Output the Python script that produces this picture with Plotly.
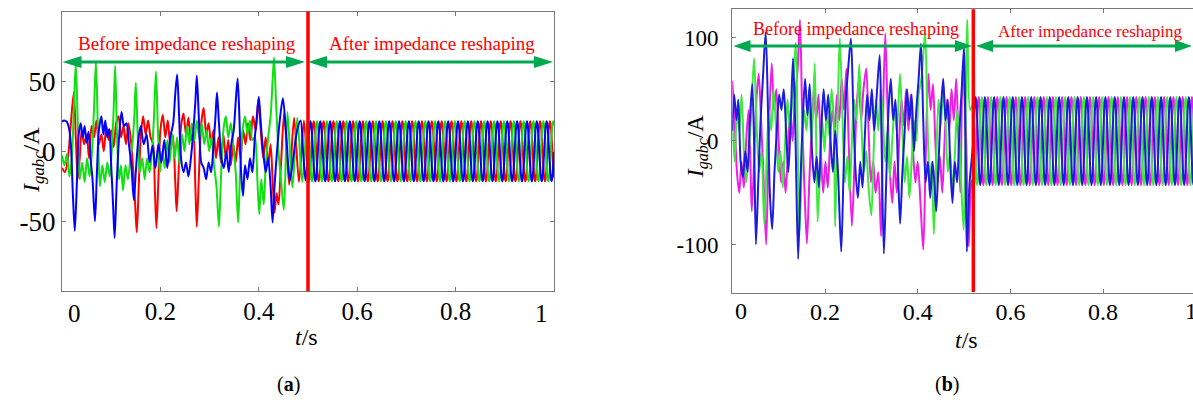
import numpy as np
import plotly.graph_objects as go

W, H = 1193, 402

# ---------------- data ----------------
# switching instants (s)
SWITCH_A = 0.50
SWITCH_B = 0.52
PERIOD = 0.02  # 50 Hz grid

# one steady-state period (12 samples) after reshaping
A_CYCLE = [0, 10.8, 18.6, 21.5, 18.6, 10.8, 0, -10.8, -18.6, -21.5, -18.6, -10.8]
B_CYCLE = [0, 21.3, 36.8, 42.5, 36.8, 21.3, 0, -21.3, -36.8, -42.5, -36.8, -21.3]

# panel (a), before reshaping: extrema (t [s], I [A])
A_BLUE = [(0, 21), (0.004, 22), (0.010, 21), (0.014, 17), (0.018, 5), (0.022, -30), (0.026, -57),
          (0.030, -25), (0.034, 12), (0.038, 20), (0.042, 10), (0.046, 18), (0.050, 6), (0.054, 14),
          (0.058, -5), (0.062, -20), (0.067, -50), (0.071, -15), (0.075, 15), (0.080, 25), (0.084, 12),
          (0.088, 22), (0.092, 10), (0.096, 16), (0.100, -10), (0.104, -40), (0.107, -62), (0.111, -25),
          (0.116, 10), (0.121, 28), (0.126, 18), (0.131, 20), (0.136, 5), (0.141, -10), (0.146, -35),
          (0.150, -15), (0.155, 8), (0.160, 18), (0.166, 5), (0.172, 12), (0.178, -8), (0.184, 4),
          (0.190, -12), (0.196, 5), (0.202, -8), (0.208, 8), (0.214, -12), (0.220, 10), (0.226, 20),
          (0.230, 40), (0.234, 55), (0.238, 25), (0.242, -5), (0.247, -15), (0.252, -8), (0.257, -18),
          (0.262, -5), (0.267, 15), (0.271, 35), (0.274, 54), (0.278, 25), (0.283, -8), (0.288, -12),
          (0.293, -20), (0.298, -8), (0.303, -15), (0.308, 5), (0.312, 25), (0.315, 42), (0.319, 20),
          (0.324, -5), (0.329, -12), (0.334, 0), (0.339, -15), (0.344, 5), (0.349, 15), (0.353, 35),
          (0.357, 52), (0.361, 20), (0.364, -15), (0.368, -32), (0.372, -10), (0.377, -20), (0.382, -5),
          (0.387, -15), (0.392, 10), (0.396, 25), (0.400, 39), (0.404, 20), (0.409, 0), (0.414, -15),
          (0.419, -5), (0.424, -25), (0.428, -51), (0.432, -25), (0.437, 0), (0.442, 20), (0.449, 38),
          (0.456, 10), (0.463, -21), (0.470, -5), (0.478, 15), (0.485, 22), (0.490, 0), (0.495, -21)]

A_RED = [(0, -12), (0.006, -15), (0.012, -5), (0.018, 20), (0.024, 42), (0.028, 10), (0.032, -20),
         (0.036, -5), (0.040, 15), (0.045, 5), (0.050, 12), (0.055, -5), (0.060, 18), (0.065, 10),
         (0.070, 22), (0.075, 5), (0.080, 12), (0.085, 0), (0.090, 18), (0.095, 8), (0.100, 15),
         (0.105, 3), (0.110, 20), (0.115, 25), (0.120, 10), (0.125, 18), (0.130, 5), (0.135, 20),
         (0.140, 8), (0.145, -15), (0.149, -40), (0.152, -58), (0.156, -25), (0.160, 10), (0.165, 25),
         (0.170, 12), (0.175, 22), (0.180, 10), (0.185, 5), (0.189, -30), (0.192, -55), (0.196, -20),
         (0.200, 15), (0.205, 26), (0.210, 10), (0.215, 22), (0.220, 5), (0.225, 12), (0.230, -20),
         (0.233, -43), (0.237, -15), (0.242, 18), (0.247, 27), (0.252, 12), (0.257, 24), (0.262, 8),
         (0.267, 15), (0.271, -25), (0.274, -54), (0.278, -20), (0.283, 20), (0.288, 31), (0.293, 12),
         (0.298, 20), (0.303, 5), (0.308, 15), (0.313, -5), (0.318, 10), (0.323, -8), (0.328, 12),
         (0.333, -5), (0.338, 8), (0.343, -10), (0.348, 5), (0.353, -8), (0.358, 10), (0.363, -5),
         (0.368, 15), (0.373, 5), (0.378, 20), (0.383, 8), (0.388, 25), (0.394, 15), (0.399, 37),
         (0.404, 15), (0.409, -5), (0.414, 10), (0.419, -10), (0.424, 5), (0.428, -20), (0.432, -44),
         (0.436, -30), (0.440, -38), (0.445, -10), (0.4517, 28), (0.4617, -24), (0.4717, 24),
         (0.4817, -22), (0.4917, 22)]

A_GREEN = [(0, -3), (0.005, -10), (0.010, -2), (0.015, -18), (0.020, -5), (0.024, 30), (0.028, 63),
           (0.032, 20), (0.036, -20), (0.041, -8), (0.046, -22), (0.051, -5), (0.056, -18), (0.061, 0),
           (0.065, 30), (0.069, 64), (0.073, 15), (0.077, -25), (0.082, -10), (0.087, -22), (0.092, -8),
           (0.097, -18), (0.101, 0), (0.105, 30), (0.108, 61), (0.112, 10), (0.116, -20), (0.120, -10),
           (0.124, -28), (0.129, -10), (0.134, -20), (0.139, -5), (0.143, 5), (0.147, 25), (0.150, 49),
           (0.154, 10), (0.158, -15), (0.163, -5), (0.168, -20), (0.173, -5), (0.178, -15), (0.183, 0),
           (0.187, 25), (0.191, 57), (0.195, 15), (0.199, -15), (0.204, 0), (0.209, -12), (0.214, 8),
           (0.219, -8), (0.224, 12), (0.229, -5), (0.234, 10), (0.239, -10), (0.244, 12), (0.249, 0),
           (0.254, 18), (0.259, 5), (0.264, 20), (0.269, 8), (0.274, 22), (0.279, 10), (0.284, 20),
           (0.289, 5), (0.294, 15), (0.299, 0), (0.304, 10), (0.309, -10), (0.314, -25), (0.319, -54),
           (0.323, -20), (0.328, 15), (0.333, 25), (0.338, 10), (0.343, 20), (0.348, 5), (0.353, -15),
           (0.358, -51), (0.362, -15), (0.367, 15), (0.372, 25), (0.377, 12), (0.382, 22), (0.387, 8),
           (0.392, 10), (0.397, -20), (0.401, -45), (0.405, -20), (0.410, -38), (0.414, -10), (0.419, 10),
           (0.424, 25), (0.428, 50), (0.431, 67), (0.435, 35), (0.440, 0), (0.445, -20), (0.451, -42),
           (0.4583, 28), (0.4683, -26), (0.4783, 24), (0.4883, -22), (0.4983, 21.5)]

# panel (b), before reshaping: extrema (t [s], I [A])
B_BLUE = [(0, 10), (0.004, 45), (0.009, 20), (0.013, 40), (0.018, -20), (0.023, -35), (0.028, -10),
          (0.033, -30), (0.038, 20), (0.043, 55), (0.047, 0), (0.051, -100), (0.056, -40), (0.061, 20),
          (0.066, 60), (0.072, 105), (0.077, 30), (0.081, -50), (0.086, -85), (0.091, -30), (0.096, 10),
          (0.101, 45), (0.106, 30), (0.111, 50), (0.116, 10), (0.121, -30), (0.126, 20), (0.131, 80),
          (0.136, 10), (0.142, -114), (0.147, -40), (0.152, 20), (0.157, 60), (0.162, 25), (0.167, 55),
          (0.172, -10), (0.177, -40), (0.182, -15), (0.187, -45), (0.192, 10), (0.197, 50), (0.202, 20),
          (0.207, 45), (0.212, 0), (0.217, -30), (0.222, 10), (0.228, -30), (0.235, -107), (0.240, -30),
          (0.245, 40), (0.250, 70), (0.256, 99), (0.261, 30), (0.266, -30), (0.271, -55), (0.276, -20),
          (0.281, -45), (0.286, 5), (0.291, 45), (0.296, 20), (0.301, 50), (0.306, 10), (0.311, 40),
          (0.318, 83), (0.322, 0), (0.327, -109), (0.332, -40), (0.337, 30), (0.342, 60), (0.347, 20),
          (0.352, 40), (0.357, -20), (0.362, -80), (0.367, -30), (0.372, 10), (0.377, 50), (0.382, 20),
          (0.387, 45), (0.392, -10), (0.397, 30), (0.402, 60), (0.407, 94), (0.412, 20), (0.417, -40),
          (0.422, -20), (0.427, -55), (0.432, -20), (0.436, -40), (0.440, -68), (0.445, -20), (0.450, 30),
          (0.455, 60), (0.460, 20), (0.465, 40), (0.470, -20), (0.475, -60), (0.480, -20), (0.485, -40),
          (0.490, 10), (0.495, 50), (0.500, 91), (0.503, 0), (0.506, -107), (0.512, -40)]

B_MAGENTA = [(0, 58), (0.005, 20), (0.010, -30), (0.015, -50), (0.020, -20), (0.025, -45), (0.030, 0),
             (0.035, 30), (0.039, -20), (0.042, -68), (0.047, -20), (0.052, 40), (0.057, 65), (0.062, 20),
             (0.067, -30), (0.073, -100), (0.079, 10), (0.085, 75), (0.090, 30), (0.095, 50), (0.100, 0),
             (0.105, -40), (0.110, -20), (0.115, -50), (0.120, -10), (0.125, 30), (0.130, 0), (0.135, 40),
             (0.141, 70), (0.146, 117), (0.151, 20), (0.156, -50), (0.161, -99), (0.166, -40), (0.171, 10),
             (0.176, 50), (0.181, 20), (0.186, 45), (0.191, -10), (0.196, -50), (0.201, -20), (0.206, -45),
             (0.211, 0), (0.216, 30), (0.221, 10), (0.226, 45), (0.231, 20), (0.236, 60), (0.241, 30),
             (0.246, 70), (0.251, 0), (0.258, -82), (0.263, -30), (0.268, 30), (0.273, 60), (0.278, 20),
             (0.283, 50), (0.289, 70), (0.294, 10), (0.299, -40), (0.304, -20), (0.309, -50), (0.315, -30),
             (0.321, -92), (0.325, 20), (0.330, 104), (0.335, 30), (0.340, -30), (0.345, -60), (0.350, -20),
             (0.355, -50), (0.360, 0), (0.365, 40), (0.370, 15), (0.375, 50), (0.380, 10), (0.385, 45),
             (0.390, -10), (0.395, -40), (0.400, -20), (0.406, -60), (0.412, -105), (0.417, -20),
             (0.423, 65), (0.428, 30), (0.433, 55), (0.438, 0), (0.443, -40), (0.448, -15), (0.453, -50),
             (0.458, 0), (0.463, 40), (0.468, 10), (0.473, 50), (0.478, 20), (0.483, 60), (0.488, 0),
             (0.492, -50), (0.497, 72), (0.504, 10), (0.510, -102), (0.516, -40)]

B_GREEN = [(0, 20), (0.005, -20), (0.010, 30), (0.015, 10), (0.020, 45), (0.025, -10), (0.030, -40),
           (0.035, -15), (0.040, 20), (0.047, 80), (0.052, 20), (0.058, -30), (0.063, -10), (0.069, -81),
           (0.074, -20), (0.079, 30), (0.084, 10), (0.089, 50), (0.094, 15), (0.099, -30), (0.104, -10),
           (0.109, -45), (0.114, 0), (0.119, 40), (0.124, 10), (0.130, 45), (0.137, 95), (0.141, 0),
           (0.145, -91), (0.150, -20), (0.155, 30), (0.160, 10), (0.165, 40), (0.171, 0), (0.178, 75),
           (0.184, -78), (0.189, -30), (0.194, 20), (0.199, -10), (0.204, 30), (0.209, 5), (0.214, 50),
           (0.219, 20), (0.222, -83), (0.232, 99), (0.238, 20), (0.243, -40), (0.248, -15), (0.253, -50),
           (0.258, 0), (0.263, 40), (0.268, 20), (0.274, 74), (0.279, 10), (0.284, -30), (0.289, -10),
           (0.294, -45), (0.300, -72), (0.305, -10), (0.310, 40), (0.315, 10), (0.320, 50), (0.325, 20),
           (0.330, -20), (0.335, 10), (0.340, -35), (0.345, 0), (0.350, 30), (0.355, 10), (0.362, 65),
           (0.367, 10), (0.372, -40), (0.377, -15), (0.382, -55), (0.387, -20), (0.392, 20), (0.397, 0),
           (0.402, 45), (0.408, 60), (0.416, 104), (0.421, 20), (0.426, -40), (0.430, -20), (0.435, -90),
           (0.440, -20), (0.445, 40), (0.450, 15), (0.455, 55), (0.460, 20), (0.465, -30), (0.470, -10),
           (0.475, -50), (0.480, -15), (0.485, 30), (0.490, 0), (0.499, -86), (0.507, 117), (0.513, 30)]

X_TICKS = [0.2, 0.4, 0.6, 0.8]
A_Y_TICKS = [-50, 0, 50]
B_Y_TICKS = [-100, 0, 100]

# ---------------- helpers ----------------
def steady(cycle, t0, t_end, shift):
    seq = np.roll(np.asarray(cycle, float), shift)
    n = int(round((t_end - t0) / PERIOD))
    vals = np.append(np.tile(seq, n), seq[0])
    t = t0 + np.arange(len(vals)) * PERIOD / len(cycle)
    return t, vals


def full_wave(knots, cycle, t0, shift):
    kt = [p[0] for p in knots if p[0] < t0]
    kv = [p[1] for p in knots if p[0] < t0]
    st, sv = steady(cycle, t0, 1.0, shift)
    return np.concatenate([kt, st]), np.concatenate([kv, sv])


def px(x):
    return x / W


def py(y):
    return 1 - y / H


SERIF = "Liberation Serif"
GRAY = "#7a7a7a"

fig = go.Figure()

# panel (a)
for knots, shift, col in [(A_RED, 4, "#ff0000"), (A_GREEN, 8, "#10e010"), (A_BLUE, 0, "#0000ff")]:
    t, v = full_wave(knots, A_CYCLE, SWITCH_A, shift)
    fig.add_trace(go.Scatter(x=t, y=v, mode="lines", line=dict(color=col, width=2, shape="spline", smoothing=0.8),
                             xaxis="x", yaxis="y", showlegend=False, hoverinfo="skip"))

# panel (b)
for knots, shift, col in [(B_MAGENTA, 4, "#ee1ee6"), (B_GREEN, 8, "#3ee83e"), (B_BLUE, 0, "#1c1cdc")]:
    t, v = full_wave(knots, B_CYCLE, SWITCH_B, shift)
    fig.add_trace(go.Scatter(x=t, y=v, mode="lines", line=dict(color=col, width=2, shape="spline", smoothing=0.8),
                             xaxis="x2", yaxis="y2", showlegend=False, hoverinfo="skip"))

# geometry (pixels)
A_L, A_R, A_T, A_B = 62, 554, 11.5, 291
B_L, B_T, B_B = 732.3, 9.3, 293.3
B_PX_PER_S = 463.5
B_XMAX = (W - B_L) / B_PX_PER_S

axis_common = dict(showgrid=False, zeroline=False, showline=True, linecolor=GRAY, linewidth=1.2,
                   ticks="inside", ticklen=4, tickcolor=GRAY, tickwidth=1)

fig.update_layout(
    width=W, height=H, margin=dict(l=0, r=0, t=0, b=0, pad=0),
    paper_bgcolor="white", plot_bgcolor="white",
    xaxis=dict(domain=[px(A_L), px(A_R)], range=[0, 1], anchor="y", tickvals=X_TICKS,
               ticktext=[str(v) for v in X_TICKS], mirror="ticks", ticklabelstandoff=-2,
               tickfont=dict(family=SERIF, size=25, color="black"), **axis_common),
    yaxis=dict(domain=[py(A_B), py(A_T)], range=[-100, 100], anchor="x", tickvals=A_Y_TICKS,
               ticktext=[str(v) for v in A_Y_TICKS], mirror="ticks", ticklabelstandoff=0,
               tickfont=dict(family=SERIF, size=27, color="black"), **axis_common),
    xaxis2=dict(domain=[px(B_L), 1.0], range=[0, B_XMAX], anchor="y2", tickvals=X_TICKS,
                ticktext=[str(v) for v in X_TICKS], mirror="ticks", ticklabelstandoff=-3,
                tickfont=dict(family=SERIF, size=24, color="black"), **axis_common),
    yaxis2=dict(domain=[py(B_B), py(B_T)], range=[-147.2, 127.2], anchor="x2", tickvals=B_Y_TICKS,
                ticktext=[str(v) for v in B_Y_TICKS], mirror=False, ticklabelstandoff=8,
                tickfont=dict(family=SERIF, size=23, color="black"), **axis_common),
)

shapes = []
# red switching lines
shapes.append(dict(type="line", xref="x", yref="y domain", x0=SWITCH_A, x1=SWITCH_A, y0=0, y1=1,
                   line=dict(color="#ff0000", width=3.5)))
shapes.append(dict(type="line", xref="x2", yref="y2 domain", x0=SWITCH_B, x1=SWITCH_B, y0=0.005, y1=1,
                   line=dict(color="#ff0000", width=3.5)))

ARROW_GREEN = "#00a84f"


def double_arrow(x1, x2, y, head=19, half=6, lw=3):
    out = [dict(type="line", xref="paper", yref="paper", x0=px(x1 + head - 2), x1=px(x2 - head + 2),
                y0=py(y), y1=py(y), line=dict(color=ARROW_GREEN, width=lw))]
    for tip, base in [(x1, x1 + head), (x2, x2 - head)]:
        path = (f"M {px(tip)},{py(y)} L {px(base)},{py(y - half)} "
                f"L {px(base)},{py(y + half)} Z")
        out.append(dict(type="path", xref="paper", yref="paper", path=path,
                        fillcolor=ARROW_GREEN, line=dict(color=ARROW_GREEN, width=0)))
    return out


shapes += double_arrow(62.5, 305, 62)
shapes += double_arrow(308, 553, 62)
shapes += double_arrow(733.5, 972, 46, head=17)
shapes += double_arrow(976, 1192, 46, head=17)
fig.update_layout(shapes=shapes)

ann = []


def text(x, y, s, size, color="black", angle=0):
    ann.append(dict(xref="paper", yref="paper", x=px(x), y=py(y), text=s, showarrow=False,
                    xanchor="center", yanchor="middle", textangle=angle,
                    font=dict(family=SERIF, size=size, color=color)))


text(187, 44, "Before impedance reshaping", 19, "#ff0000")
text(432, 44, "After impedance reshaping", 19, "#ff0000")
text(856, 29, "Before impedance reshaping", 18, "#ff0000")
text(1090, 32, "After impedance reshaping", 17, "#ff0000")

text(33, 160, "<i>I</i><sub><i>gabc</i></sub>/A", 24, angle=-90)
text(697, 147, "<i>I</i><sub><i>gabc</i></sub>/A", 23, angle=-90)
text(306, 337, "<i>t</i>/s", 24)
text(966, 340, "<i>t</i>/s", 24)
text(288, 384, "(<b>a</b>)", 20)
text(947, 384, "(<b>b</b>)", 20)

# end tick labels (drawn slightly inward as in the original)
text(74, 313, "0", 25)
text(541, 313, "1", 25)
text(741, 311, "0", 24)
text(1191, 311, "1", 24)

fig.update_layout(annotations=ann)
fig.write_html("out.html", config={"displayModeBar": False},
               post_script="document.body.style.margin='0';document.body.style.overflow='hidden';")
